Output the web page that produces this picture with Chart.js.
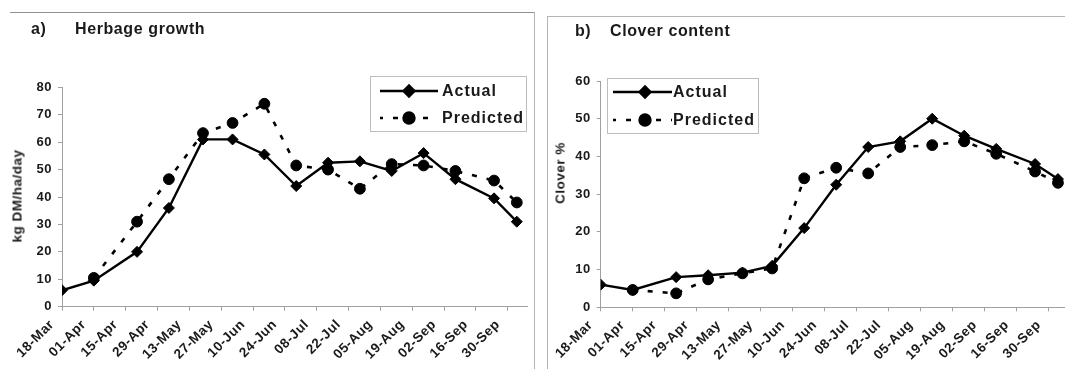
<!DOCTYPE html>
<html>
<head>
<meta charset="utf-8">
<script src="https://cdn.jsdelivr.net/npm/chart.js@4.4.1/dist/chart.umd.min.js"></script>
<style>
    html, body { margin: 0; padding: 0; background: #fff; }
    #page { position: relative; width: 1065px; height: 369px; overflow: hidden; font-family: "Liberation Sans", Arial, sans-serif; color: #1a1a1a; }
    canvas { position: absolute; top: 0; }
    #chartA { left: 0; }
    #chartB { left: 547px; }
    .rule { position: absolute; background: #b4b4b4; }
    .title { position: absolute; font-weight: bold; font-size: 16px; line-height: 16px; letter-spacing: 0.6px; white-space: nowrap; }
    .ytitle { position: absolute; font-weight: bold; font-size: 13.5px; letter-spacing: 0.5px; white-space: nowrap; transform: translate(-50%, -50%) rotate(-90deg); }
</style>
</head>
<body>
<div id="page">
    <div class="rule" style="left:10px; top:12px; width:525px; height:1px; background:#909090;"></div>
    <div class="rule" style="left:534px; top:12px; width:1px; height:357px;"></div>
    <div class="rule" style="left:547px; top:16px; width:518px; height:1px;"></div>
    <div class="rule" style="left:547px; top:16px; width:1px; height:353px;"></div>

    <canvas id="chartA" width="534" height="369"></canvas>
    <canvas id="chartB" width="540" height="369"></canvas>

    <div class="title" style="left:31px; top:21px;">a)</div>
    <div class="title" style="left:75px; top:21px;">Herbage growth</div>
    <div class="title" style="left:575px; top:23px;">b)</div>
    <div class="title" style="left:610px; top:23px;">Clover content</div>

    <div class="ytitle" style="left:17px; top:196px;">kg DM/ha/day</div>
    <div class="ytitle" style="left:560px; top:173px;">Clover %</div>
</div>

<script>
// Sampling dates, in days after 18-Mar
const DAYS = [0, 14, 33, 47, 62, 75, 89, 103, 117, 131, 145, 159, 173, 190, 200];

// Tick labels, one every 14 days
const TICK_LABELS = ['18-Mar', '01-Apr', '15-Apr', '29-Apr', '13-May', '27-May', '10-Jun', '24-Jun',
    '08-Jul', '22-Jul', '05-Aug', '19-Aug', '02-Sep', '16-Sep', '30-Sep'];

// a) Herbage growth (kg DM/ha/day)
const GROWTH_ACTUAL = [6, 9.5, 20, 36, 61, 61, 55.5, 44, 52.5, 53, 49.5, 56, 46.5, 39.5, 31];
const GROWTH_PREDICTED = [null, 10.5, 31, 46.5, 63.3, 67, 74, 51.5, 50, 43, 52, 51.5, 49.5, 46, 38];

// b) Clover content (%)
const CLOVER_ACTUAL = [6, 4.6, 8, 8.5, 9.2, 11, 21, 32.5, 42.5, 44, 50, 45.5, 42, 38, 34];
const CLOVER_PREDICTED = [null, 4.6, 3.7, 7.4, 9, 10.3, 34.2, 37, 35.5, 42.5, 43, 44, 40.7, 36, 33];

const FONT = '"Liberation Sans", Arial, sans-serif';

// Excel style legend: framed box, line sample with marker, label
const boxLegend = {
    id: 'boxLegend',
    afterDraw(chart, args, opts) {
        const ctx = chart.ctx;
        ctx.save();
        ctx.strokeStyle = '#bdbdbd';
        ctx.lineWidth = 1;
        ctx.strokeRect(opts.x + 0.5, opts.y + 0.5, opts.w, opts.h);
        chart.data.datasets.forEach((ds, i) => {
            const y = opts.rows[i];
            ctx.beginPath();
            ctx.setLineDash(ds.borderDash || []);
            ctx.lineDashOffset = ds.legendDashOffset || 0;
            ctx.lineWidth = ds.borderWidth;
            ctx.strokeStyle = ds.borderColor;
            ctx.moveTo(opts.x1, y);
            ctx.lineTo(opts.x2, y);
            ctx.stroke();
            ctx.setLineDash([]);
            ctx.fillStyle = ds.pointBackgroundColor;
            ctx.strokeStyle = ds.borderColor;
            Chart.helpers.drawPoint(ctx, {
                pointStyle: ds.pointStyle, radius: ds.pointRadius, borderWidth: 1, rotation: 0
            }, opts.xm, y);
            ctx.letterSpacing = '1px';
            ctx.font = 'bold 16px ' + FONT;
            ctx.fillStyle = '#1a1a1a';
            ctx.textBaseline = 'middle';
            ctx.textAlign = 'left';
            ctx.fillText(ds.label, opts.xt, y + 1);
        });
        ctx.restore();
    }
};

const spacing = {
    id: 'spacing',
    beforeDraw(chart) {
        chart.ctx.letterSpacing = '0.5px';
    }
};

function series(label, values, style) {
    const base = {
        label: label,
        data: DAYS.map((d, i) => ({ x: d, y: values[i] })),
        borderColor: '#000',
        backgroundColor: '#000',
        pointBackgroundColor: '#000',
        pointBorderColor: '#000',
        pointBorderWidth: 1,
        tension: 0,
        fill: false
    };
    return Object.assign(base, style);
}

function makeChart(id, actual, predicted, yMax, area, legend) {
    const canvas = document.getElementById(id);
    return new Chart(canvas, {
        type: 'line',
        data: {
            datasets: [
                series('Actual', actual, { borderWidth: 2.4, pointStyle: 'rectRot', pointRadius: 5.5 }),
                series('Predicted', predicted, { borderWidth: 2.6, borderDash: [5, 10], legendDashOffset: 2, pointStyle: 'circle', pointRadius: 5.4 })
            ]
        },
        options: {
            responsive: false,
            animation: false,
            events: [],
            layout: { padding: { left: 0, top: area.top, right: canvas.width - area.right, bottom: 0 } },
            plugins: {
                legend: { display: false },
                tooltip: { enabled: false },
                boxLegend: legend
            },
            scales: {
                x: {
                    type: 'linear',
                    min: 0,
                    max: 204.7,
                    afterBuildTicks: s => { s.ticks = TICK_LABELS.map((t, i) => ({ value: i * 14 })); },
                    afterFit: s => {
                        s.height = canvas.height - area.bottom;
                        s.paddingLeft = 0;
                        s.paddingRight = 0;
                    },
                    ticks: {
                        autoSkip: false,
                        minRotation: 45,
                        maxRotation: 45,
                        padding: 6,
                        labelOffset: -10,
                        color: '#1a1a1a',
                        font: { family: FONT, size: 13.5, weight: 'bold' },
                        callback: v => TICK_LABELS[Math.round(v / 14)]
                    },
                    grid: { drawOnChartArea: false, drawTicks: true, tickLength: 4, color: '#a0a0a0' },
                    border: { color: '#a0a0a0', width: 1 }
                },
                y: {
                    min: 0,
                    max: yMax,
                    afterFit: s => {
                        s.width = area.left;
                        s.paddingTop = 0;
                        s.paddingBottom = 0;
                    },
                    ticks: {
                        stepSize: 10,
                        padding: 6,
                        color: '#1a1a1a',
                        font: { family: FONT, size: 13, weight: 'bold' }
                    },
                    grid: { drawOnChartArea: false, drawTicks: true, tickLength: 4, color: '#a0a0a0' },
                    border: { color: '#a0a0a0', width: 1 }
                }
            }
        },
        plugins: [spacing, boxLegend]
    });
}

makeChart('chartA', GROWTH_ACTUAL, GROWTH_PREDICTED, 80,
    { left: 62, right: 530, top: 87.3, bottom: 306.7 },
    { x: 370, y: 76, w: 156, h: 55, rows: [91, 118], x1: 380, x2: 438, xm: 409, xt: 442 });

makeChart('chartB', CLOVER_ACTUAL, CLOVER_PREDICTED, 60,
    { left: 53.7, right: 521.7, top: 81, bottom: 307.3 },
    { x: 60, y: 78, w: 151, h: 55, rows: [92, 120], x1: 66, x2: 125, xm: 98, xt: 126 });
</script>
</body>
</html>
